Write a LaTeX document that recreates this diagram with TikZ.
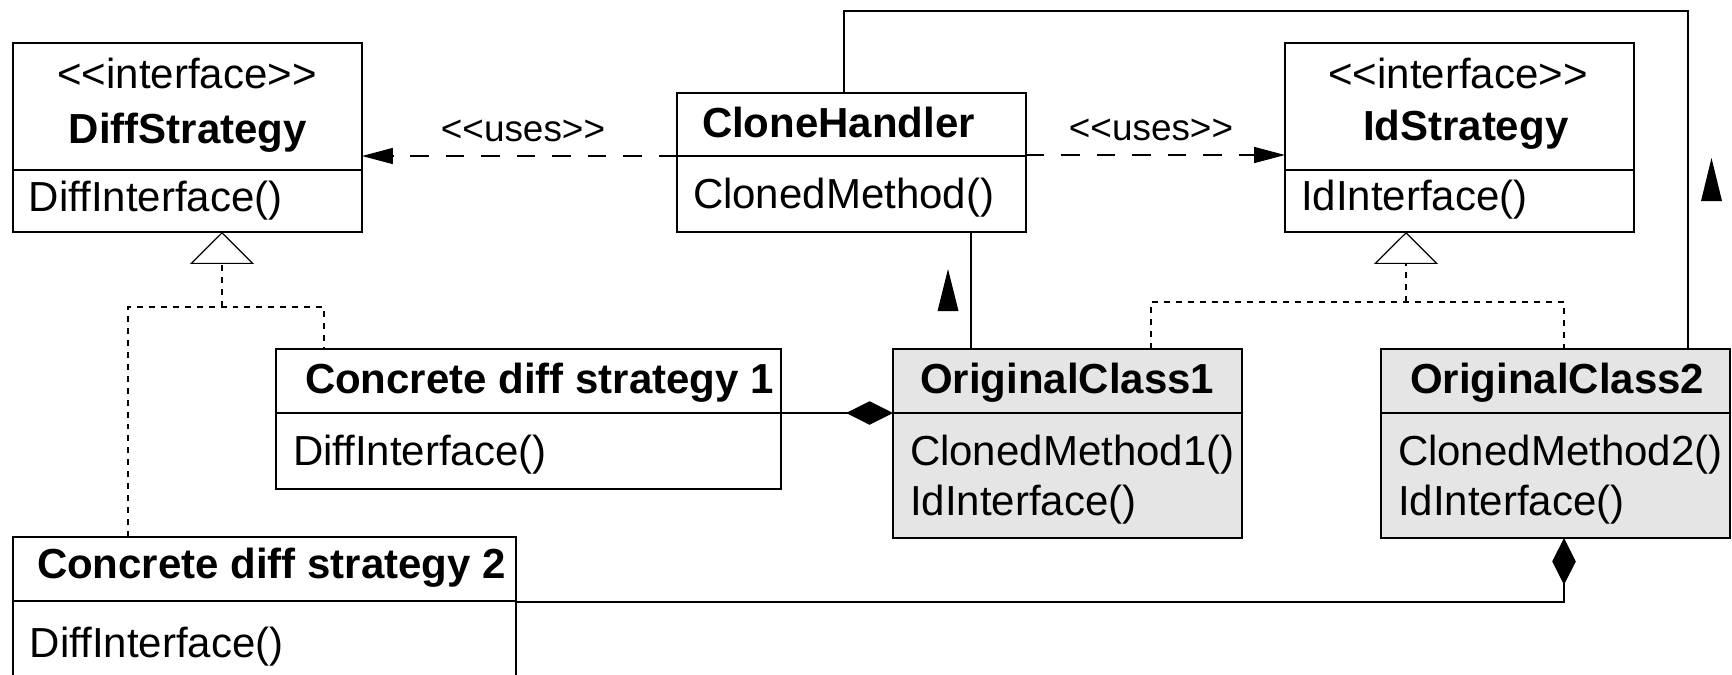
\documentclass[tikz,border=0pt]{standalone}
\usepackage{fontspec}
\setmainfont{Liberation Sans}
\usetikzlibrary{arrows.meta,fit}
\definecolor{ocfill}{RGB}{229,229,229}
\definecolor{ink}{RGB}{0,0,0}
\newcommand\mainsz{\fontsize{23.9pt}{28pt}\selectfont}
\newcommand\usesz{\fontsize{21pt}{25pt}\selectfont}
\tikzset{
  classbox/.style={draw=ink, line width=0.85pt, inner sep=0pt, outer sep=0pt, rectangle, fill=white},
  origbox/.style={classbox, fill=ocfill},
  member/.style={inner sep=0pt, outer sep=0pt, anchor=base west, font=\mainsz},
  heading/.style={member, font=\mainsz\bfseries},
  stereo/.style={inner sep=0pt, outer sep=0pt, anchor=base, font=\mainsz},
  usestext/.style={inner sep=0pt, outer sep=0pt, anchor=base, font=\usesz},
  link/.style={draw=ink, line width=0.85pt},
  useslink/.style={link, dash pattern=on 10.5pt off 9.7pt, -{Triangle[length=17.6pt, width=9.1pt]}},
  reallink/.style={link, line width=0.7pt, dash pattern=on 3.4pt off 3.4pt},
  realtip/.style={-{Triangle[open, length=18.2pt, width=36.4pt, fill=white]}},
  composite/.style={-{Diamond[length=26.7pt, width=13.4pt]}},
  navtip/.style={fill=ink, draw=none},
}
\begin{document}
\begin{tikzpicture}[x=0.02cm, y=-0.02cm]
\useasboundingbox (0,0) rectangle (1732,674);

% class boxes
\node[classbox, fit={(13,43) (362,232)}] (ds) {};
\node[classbox, fit={(677,93) (1026,232)}] (ch) {};
\node[classbox, fit={(1285,43) (1634,232)}] (ids) {};
\node[classbox, fit={(276,349) (781,489)}] (cs1) {};
\node[origbox, fit={(893,349) (1242,538)}] (oc1) {};
\node[origbox, fit={(1381,349) (1730,538)}] (oc2) {};
\node[classbox, fit={(13,537) (516,690)}] (cs2) {};

% compartment dividers
\draw[link] (ds.west |- 0,170) -- (ds.east |- 0,170);
\draw[link] (ch.west |- 0,156) -- (ch.east |- 0,156);
\draw[link] (ids.west |- 0,170) -- (ids.east |- 0,170);
\draw[link] (cs1.west |- 0,413) -- (cs1.east |- 0,413);
\draw[link] (oc1.west |- 0,413) -- (oc1.east |- 0,413);
\draw[link] (oc2.west |- 0,413) -- (oc2.east |- 0,413);
\draw[link] (cs2.west |- 0,601) -- (cs2.east |- 0,601);

% DiffStrategy
\node[stereo] (dsster) at (187,88) {<{}<interface>{}>};
\node[heading] (dsname) at (69,143) {DiffStrategy};
\node[member] (dsop) at (29,211) {DiffInterface()};

% CloneHandler
\node[heading] (chname) at (702,137) {CloneHandler};
\node[member] (chop) at (693,208) {ClonedMethod()};

% IdStrategy
\node[stereo] (idster) at (1458,88) {<{}<interface>{}>};
\node[heading] (idname) at (1363,140) {IdStrategy};
\node[member] (idop) at (1301,210) {IdInterface()};

% Concrete diff strategy 1
\node[heading] (c1name) at (305,393) {Concrete diff strategy 1};
\node[member] (c1op) at (293,465) {DiffInterface()};

% OriginalClass1
\node[heading] (o1name) at (920,393) {OriginalClass1};
\node[member] (o1opa) at (910,465) {ClonedMethod1()};
\node[member] (o1opb) at (910,515) {IdInterface()};

% OriginalClass2
\node[heading] (o2name) at (1410,393) {OriginalClass2};
\node[member] (o2opa) at (1398,465) {ClonedMethod2()};
\node[member] (o2opb) at (1398,515) {IdInterface()};

% Concrete diff strategy 2
\node[heading] (c2name) at (37,578) {Concrete diff strategy 2};
\node[member] (c2op) at (30,657) {DiffInterface()};

% dependency labels
\node[usestext] (usesl) at (523,141) {<{}<uses>{}>};
\node[usestext] (usesr) at (1151,140) {<{}<uses>{}>};

% dependencies
\draw[useslink] (ch.west |- 0,156) -- (ds.east |- 0,156);
\draw[useslink] (ch.east |- 0,155) -- (ids.west |- 0,155);

% realizations of DiffStrategy
\coordinate (dL) at (128,307);
\coordinate (dR) at (324,307);
\coordinate (dJ) at (222,307);
\draw[reallink] (cs2.north -| dL) -- (dL) -- (dR) -- (cs1.north -| dR);
\draw[reallink, realtip] (dJ) -- (ds.south -| dJ);

% realizations of IdStrategy
\coordinate (iL) at (1151,302);
\coordinate (iR) at (1564,302);
\coordinate (iJ) at (1406,302);
\draw[reallink] (oc1.north -| iL) -- (iL) -- (iR) -- (oc2.north -| iR);
\draw[reallink, realtip] (iJ) -- (ids.south -| iJ);

% associations
\coordinate (aX) at (971,0);
\draw[link] (ch.south -| aX) -- (oc1.north -| aX);
\coordinate (topL) at (844,11);
\coordinate (topR) at (1688,11);
\draw[link] (ch.north -| topL) -- (topL) -- (topR) -- (oc2.north -| topR);

% compositions
\draw[link, composite] (cs1.east |- 0,413) -- (oc1.west |- 0,413);
\coordinate (kX) at (1564,602);
\draw[link, composite] (cs2.east |- kX) -- (kX) -- (oc2.south -| kX);

% navigability marks
\fill[navtip] (937.5,311) -- (958.5,311) -- (948,269) -- cycle;
\fill[navtip] (1701,201) -- (1722,201) -- (1711.5,158) -- cycle;
\end{tikzpicture}
\end{document}
